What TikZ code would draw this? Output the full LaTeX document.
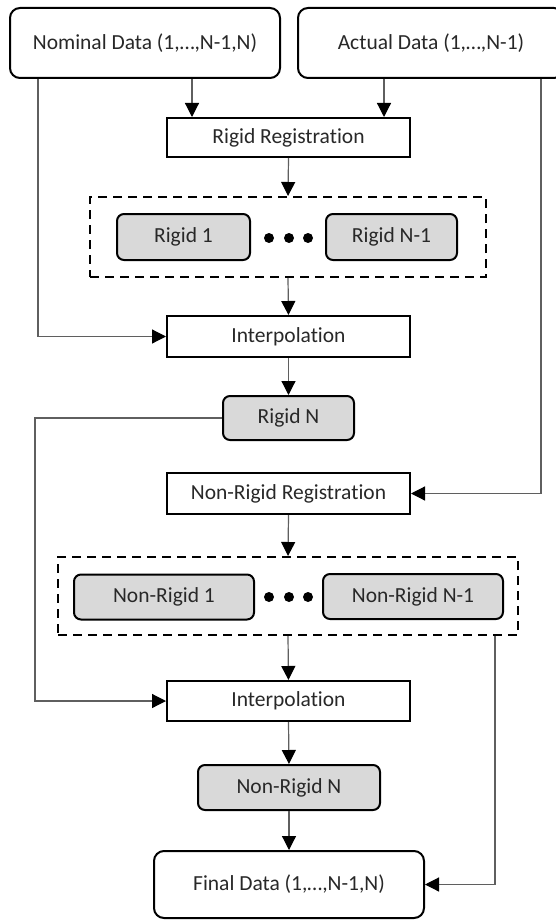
\documentclass[tikz,border=0pt]{standalone}
\usepackage{fontspec}
\setmainfont{Carlito}[RawFeature={-liga,-clig,-dlig,-calt}]
\usetikzlibrary{arrows.meta}
\definecolor{lineg}{RGB}{95,95,95}
\definecolor{txt}{RGB}{40,40,40}
\definecolor{boxg}{RGB}{217,217,217}
\begin{document}
\begin{tikzpicture}[x=1pt,y=-1pt,
  every node/.style={font=\fontsize{21.5}{25}\selectfont, text=txt, inner sep=0pt},
  databox/.style={draw=black, line width=2pt, rounded corners=10pt, fill=white},
  procbox/.style={draw=black, line width=2pt, fill=white, minimum width=243pt},
  greybox/.style={draw=black, line width=2pt, rounded corners=7pt, fill=boxg},
  groupbox/.style={draw=black, line width=2pt, dash pattern=on 9pt off 6pt},
  conn/.style={draw=lineg, line width=1.2pt, -{Triangle[length=14pt,width=14pt,color=black]}},
  dotmark/.style={circle, fill=black, minimum size=10pt, inner sep=0pt}
]
\useasboundingbox (0,0) rectangle (556,920);
\clip (0,0) rectangle (556,920);
\fill[white] (0,0) rectangle (556,920);

% coordinates for connector columns
\coordinate (xa) at (192,0);
\coordinate (xb) at (384,0);
\coordinate (xl1) at (38,0);
\coordinate (xr1) at (541,0);
\coordinate (xl2) at (35,0);
\coordinate (xr2) at (495,0);

% nodes
\node[databox, minimum width=270pt, minimum height=70pt] (nom) at (145,43) {Nominal Data (1,…,N-1,N)};
\node[databox, minimum width=266pt, minimum height=70pt] (act) at (431,43) {Actual Data (1,…,N-1)};
\node[procbox, minimum height=39pt] (rr) at (288.5,137.5) {Rigid Registration};

\node[groupbox, minimum width=396pt, minimum height=80pt] (d1) at (288,237) {};
\node[greybox, minimum width=133pt, minimum height=46pt] (r1) at (183.5,237) {Rigid 1};
\node[greybox, minimum width=131pt, minimum height=46pt] (rn1) at (391.5,237) {Rigid N-1};
\node[dotmark] (da1) at (269,238) {};
\node[dotmark] (da2) at (289,238) {};
\node[dotmark] (da3) at (308,238) {};

\node[procbox, minimum height=41pt] (ip1) at (288.5,336.5) {Interpolation};
\node[greybox, minimum width=131pt, minimum height=44pt] (rn) at (288.5,418) {Rigid N};
\node[procbox, minimum height=41pt] (nrr) at (288.5,493.5) {Non-Rigid Registration};

\node[groupbox, minimum width=460pt, minimum height=78pt] (d2) at (288,596) {};
\node[greybox, minimum width=180pt, minimum height=45pt] (nr1) at (164,597) {Non-Rigid 1};
\node[greybox, minimum width=180pt, minimum height=45pt] (nrn1) at (413,596.5) {Non-Rigid N-1};
\node[dotmark] (db1) at (269,597) {};
\node[dotmark] (db2) at (289,597) {};
\node[dotmark] (db3) at (308,597) {};

\node[procbox, minimum height=40pt] (ip2) at (288.5,701) {Interpolation};
\node[greybox, minimum width=182pt, minimum height=45pt] (nrn) at (289,787.5) {Non-Rigid N};
\node[databox, minimum width=270pt, minimum height=67pt] (fin) at (289,884.5) {Final Data (1,…,N-1,N)};

% connectors
\draw[conn] (nom.south -| xa) -- (rr.north -| xa);
\draw[conn] (act.south -| xb) -- (rr.north -| xb);
\draw[conn] (nom.south -| xl1) |- (ip1.west);
\draw[conn] (act.south -| xr1) |- (nrr.east);
\draw[conn] (rr.south) -- (d1.north);
\draw[conn] (d1.south) -- (ip1.north);
\draw[conn] (ip1.south) -- (rn.north);
\draw[conn] (rn.west) -- (rn.west -| xl2) |- (ip2.west);
\draw[conn] (nrr.south) -- (d2.north);
\draw[conn] (d2.south) -- (ip2.north);
\draw[conn] (ip2.south) -- (nrn.north);
\draw[conn] (nrn.south) -- (fin.north);
\draw[conn] (d2.south -| xr2) |- (fin.east);
\end{tikzpicture}
\end{document}
